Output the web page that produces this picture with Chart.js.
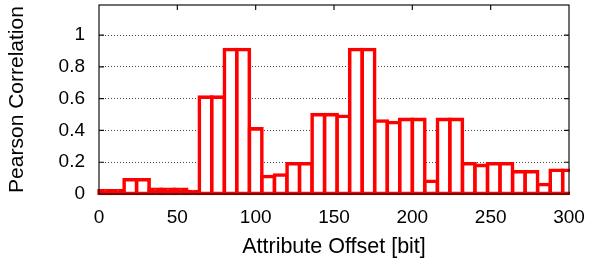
<!DOCTYPE html>
<html>
<head>
<meta charset="utf-8">
<script src="https://cdn.jsdelivr.net/npm/chart.js@4/dist/chart.umd.min.js"></script>
<style>
  html, body { margin: 0; padding: 0; background: #fff; }
  canvas { display: block; }
</style>
</head>
<body>
<canvas id="chart" width="589" height="258"></canvas>
<script>
// bin centres (8-bit wide bins) and correlation per bin
const offsets = [4, 12, 20, 28, 36, 44, 52, 60, 68, 76, 84, 92, 100, 108, 116, 124, 132, 140, 148,
  156, 164, 172, 180, 188, 196, 204, 212, 220, 228, 236, 244, 252, 260, 268, 276, 284, 292, 300];
const correlation = [0.02, 0.02, 0.09, 0.09, 0.03, 0.03, 0.03, 0.015, 0.61, 0.61, 0.91, 0.91, 0.41,
  0.11, 0.12, 0.19, 0.19, 0.50, 0.50, 0.49, 0.91, 0.91, 0.46, 0.45, 0.47, 0.47, 0.08, 0.47, 0.47,
  0.19, 0.18, 0.19, 0.19, 0.14, 0.14, 0.06, 0.15, 0.15];
const xTicks = [0, 50, 100, 150, 200, 250, 300];
const yTicks = [0, 0.2, 0.4, 0.6, 0.8, 1];

const FONT = "'Liberation Sans', Arial, Helvetica, sans-serif";

// frame + inward tick marks, drawn on top like gnuplot does
const framePlugin = {
  id: 'frame',
  afterDatasetsDraw(chart) {
    const { ctx, chartArea: a, scales } = chart;
    ctx.save();
    ctx.strokeStyle = '#111';
    ctx.lineWidth = 1.2;
    ctx.beginPath();
    xTicks.slice(1, -1).forEach(v => {
      const px = scales.x.getPixelForValue(v);
      ctx.moveTo(px, a.top); ctx.lineTo(px, a.top + 5);
    });
    yTicks.slice(1).forEach(v => {
      const py = scales.y.getPixelForValue(v);
      ctx.moveTo(a.left, py); ctx.lineTo(a.left + 5, py);
      ctx.moveTo(a.right, py); ctx.lineTo(a.right - 5, py);
    });
    ctx.stroke();
    ctx.strokeRect(a.left, a.top, a.right - a.left, a.bottom - a.top);
    ctx.restore();
  }
};

new Chart(document.getElementById('chart'), {
  type: 'bar',
  data: {
    datasets: [{
      data: offsets.map((x, i) => ({ x: x, y: correlation[i] })),
      backgroundColor: c => (c.raw && c.raw.y < 0.04 ? '#ff0000' : '#ffffff'),
      borderColor: '#ff0000',
      borderWidth: 3.6,
      borderSkipped: false,
      inflateAmount: 1.8,
      barPercentage: 1,
      categoryPercentage: 1,
      clip: { left: 3, top: 3, right: 1, bottom: 3 }
    }]
  },
  options: {
    responsive: false,
    animation: false,
    devicePixelRatio: 1,
    layout: { autoPadding: false, padding: { left: 0, right: 20, top: 5, bottom: 0 } },
    plugins: { legend: { display: false }, tooltip: { enabled: false } },
    scales: {
      x: {
        type: 'linear',
        min: 0,
        max: 300,
        offset: false,
        afterFit: s => { s.height = 64; s.paddingLeft = 0; s.paddingRight = 0; },
        afterBuildTicks: s => { s.ticks = xTicks.map(v => ({ value: v })); },
        grid: { display: false, offset: false, drawTicks: false },
        border: { display: false },
        ticks: { color: '#000', padding: 12, maxRotation: 0, font: { family: FONT, size: 19 } },
        title: {
          display: true,
          text: 'Attribute Offset [bit]',
          color: '#000',
          padding: { top: 0, bottom: 0 },
          font: { family: FONT, size: 21.5, lineHeight: 1 }
        }
      },
      y: {
        min: 0,
        max: 1.19,
        afterFit: s => { s.width = 99; s.paddingTop = 0; s.paddingBottom = 0; },
        afterBuildTicks: s => { s.ticks = yTicks.map(v => ({ value: v })); },
        grid: { color: '#444', lineWidth: 1, drawTicks: false },
        border: { display: false, dash: [1, 2] },
        ticks: {
          color: '#000',
          padding: 14,
          font: { family: FONT, size: 19 },
          callback: v => String(v)
        },
        title: {
          display: true,
          text: 'Pearson Correlation',
          color: '#000',
          padding: { top: 7, bottom: 0 },
          font: { family: FONT, size: 21, lineHeight: 1 }
        }
      }
    }
  },
  plugins: [framePlugin]
});
</script>
</body>
</html>
